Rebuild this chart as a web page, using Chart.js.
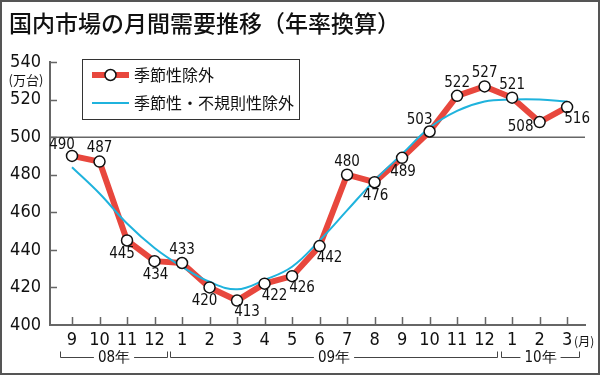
<!DOCTYPE html>
<html>
<head>
<meta charset="utf-8">
<script src="https://cdn.jsdelivr.net/npm/chart.js@4"></script>
<style>
    body { margin: 0; background: #fff; }
    #wrap { width: 600px; height: 375px; }
</style>
</head>
<body>
<div id="wrap"><canvas id="demandChart" width="600" height="375"></canvas></div>
<script>
/* ========================================
   国内市場の月間需要推移 (年率換算)
   ======================================== */

const months = ['9', '10', '11', '12', '1', '2', '3', '4', '5', '6', '7', '8', '9', '10', '11', '12', '1', '2', '3'];
const seasonalAdj = [490, 487, 445, 434, 433, 420, 413, 422, 426, 442, 480, 476, 489, 503, 522, 527, 521, 508, 516];
const trendAdj = [484, 470, 454, 441, 431, 423, 419, 424, 431, 445, 461, 477, 491, 505, 514, 519, 520, 520, 519];
const years = ['08年', '09年', '10年'];
const yearFirst = [0, 4, 16];
const yearLast = [3, 15, 18];
const seriesNames = ['季節性除外', '季節性・不規則性除外'];

// where each value label sits relative to its point
const labelPlace = ['tl', 't', 'bl', 'b', 't', 'bl', 'br', 'br', 'br', 'br', 't', 'b', 'b', 'tl', 't', 't', 't', 'l', 'br'];
const placeOffset = {
    t: [0, -13], b: [1, 14], tl: [-10, -11], bl: [-5, 14], br: [10, 12], l: [-19, 5]
};

const RED = '#e8473d';
const BLUE = '#1fb3dd';
const AXIS = '#666';
const NUM_FONT = "'Liberation Sans Narrow', 'DejaVu Sans Condensed', sans-serif";
const JP_FONT = "'Noto Sans CJK JP', sans-serif";

const toXY = arr => arr.map((v, i) => ({ x: i, y: v }));

const decorPlugin = {
    id: 'decor',
    beforeDraw(chart) {
        const c = chart.ctx;
        c.save();
        c.fillStyle = '#fff';
        c.fillRect(0, 0, chart.width, chart.height);
        c.restore();
    },
    beforeDatasetsDraw(chart) {
        const c = chart.ctx;
        const y = chart.scales.y;
        const area = chart.chartArea;
        const py = y.getPixelForValue(500);
        c.save();
        c.strokeStyle = AXIS;
        c.lineWidth = 1.5;
        c.beginPath();
        c.moveTo(area.left, py);
        c.lineTo(area.right, py);
        c.stroke();
        c.restore();
    },
    afterDatasetsDraw(chart) {
        const c = chart.ctx;
        const xs = chart.scales.x, ys = chart.scales.y;
        c.save();
        c.font = '15px ' + NUM_FONT;
        c.fillStyle = '#111';
        c.textAlign = 'center';
        c.textBaseline = 'middle';
        seasonalAdj.forEach((v, i) => {
            const off = placeOffset[labelPlace[i]];
            c.fillText(String(v), xs.getPixelForValue(i) + off[0], ys.getPixelForValue(v) + off[1]);
        });
        c.restore();
    },
    afterDraw(chart) {
        const c = chart.ctx;
        const xs = chart.scales.x, ys = chart.scales.y;
        const area = chart.chartArea;
        c.save();

        // tick marks pointing inward
        c.strokeStyle = AXIS;
        c.lineWidth = 1.5;
        c.beginPath();
        months.forEach((m, i) => {
            const px = Math.round(xs.getPixelForValue(i)) + 0.5;
            c.moveTo(px, area.bottom);
            c.lineTo(px, area.bottom - 8);
        });
        ys.ticks.forEach(t => {
            if (t.value === 400) return;
            const py = Math.round(ys.getPixelForValue(t.value)) + 0.5;
            c.moveTo(area.left, py);
            c.lineTo(area.left + 7, py);
        });
        c.stroke();

        // unit labels
        c.fillStyle = '#111';
        c.font = '13px ' + JP_FONT;
        c.textAlign = 'center';
        c.textBaseline = 'middle';
        c.fillText('(万台)', 26, 80);
        c.font = '12px ' + JP_FONT;
        c.textAlign = 'left';
        c.fillText('(月)', xs.getPixelForValue(18) + 7, 341);

        // year brackets
        c.strokeStyle = '#444';
        c.lineWidth = 1;
        years.forEach((label, k) => {
            const x0 = Math.round(xs.getPixelForValue(yearFirst[k] - 0.42)) + 0.5;
            const x1 = Math.round(xs.getPixelForValue(yearLast[k] + 0.45)) + 0.5;
            const yb = 357.5;
            const mid = (x0 + x1) / 2;
            c.font = '15px ' + NUM_FONT;
            const w = c.measureText(label).width + 8;
            c.beginPath();
            c.moveTo(x0, yb - 6);
            c.lineTo(x0, yb);
            c.lineTo(mid - w / 2, yb);
            c.moveTo(mid + w / 2, yb);
            c.lineTo(x1, yb);
            c.lineTo(x1, yb - 6);
            c.stroke();
            c.textAlign = 'center';
            c.fillText(label, mid, yb + 1);
        });

        // title
        c.fillStyle = '#111';
        c.font = '500 23px ' + JP_FONT;
        c.textAlign = 'left';
        c.textBaseline = 'middle';
        c.fillText('国内市場の月間需要推移（年率換算）', 9, 23);

        // legend box
        c.fillStyle = '#fff';
        c.fillRect(82, 59, 218, 60);
        c.strokeStyle = '#333';
        c.lineWidth = 1;
        c.strokeRect(82.5, 59.5, 217, 60);
        c.lineCap = 'butt';
        c.strokeStyle = RED;
        c.lineWidth = 6;
        c.beginPath();
        c.moveTo(92, 75);
        c.lineTo(129, 75);
        c.stroke();
        c.beginPath();
        c.arc(110.5, 75, 5.5, 0, Math.PI * 2);
        c.fillStyle = '#fff';
        c.fill();
        c.strokeStyle = '#111';
        c.lineWidth = 1.5;
        c.stroke();
        c.strokeStyle = BLUE;
        c.lineWidth = 2;
        c.beginPath();
        c.moveTo(92, 103);
        c.lineTo(129, 103);
        c.stroke();
        c.fillStyle = '#111';
        c.font = '16px ' + JP_FONT;
        c.textAlign = 'left';
        c.fillText(seriesNames[0], 134, 75);
        c.fillText(seriesNames[1], 134, 103);

        // outer frame
        c.strokeStyle = '#555';
        c.lineWidth = 2;
        c.strokeRect(1, 1, chart.width - 2, chart.height - 2);
        c.restore();
    }
};

new Chart(document.getElementById('demandChart'), {
    type: 'line',
    data: {
        datasets: [{
            label: seriesNames[0],
            data: toXY(seasonalAdj),
            borderColor: RED,
            borderWidth: 6,
            borderJoinStyle: 'round',
            borderCapStyle: 'round',
            pointRadius: 0,
            order: 3
        }, {
            label: seriesNames[1],
            data: toXY(trendAdj),
            borderColor: BLUE,
            borderWidth: 2,
            tension: 0.4,
            pointRadius: 0,
            order: 2
        }, {
            label: seriesNames[0] + ' points',
            data: toXY(seasonalAdj),
            showLine: false,
            pointRadius: 5.5,
            pointBackgroundColor: '#fff',
            pointBorderColor: '#111',
            pointBorderWidth: 1.5,
            order: 1
        }]
    },
    options: {
        responsive: false,
        animation: false,
        layout: { padding: { top: 62, right: 15, left: 0, bottom: 0 } },
        plugins: {
            legend: { display: false },
            tooltip: { enabled: false }
        },
        scales: {
            x: {
                type: 'linear',
                min: -0.8,
                max: 18.65,
                afterBuildTicks: function(scale) {
                    scale.ticks = months.map((m, i) => ({ value: i }));
                },
                afterFit: function(scale) { scale.height = 50; },
                grid: { display: false, drawTicks: false },
                border: { display: true, color: AXIS, width: 2 },
                ticks: {
                    autoSkip: false,
                    maxRotation: 0,
                    padding: 5,
                    color: '#111',
                    font: { family: NUM_FONT, size: 18 },
                    callback: function(value) {
                        return months[value];
                    }
                }
            },
            y: {
                min: 400,
                max: 540,
                afterFit: function(scale) { scale.width = 50; },
                grid: { display: false, drawTicks: false },
                border: { display: true, color: AXIS, width: 2 },
                ticks: {
                    stepSize: 20,
                    padding: 9,
                    color: '#111',
                    font: { family: NUM_FONT, size: 18 }
                }
            }
        }
    },
    plugins: [decorPlugin]
});
</script>
</body>
</html>
